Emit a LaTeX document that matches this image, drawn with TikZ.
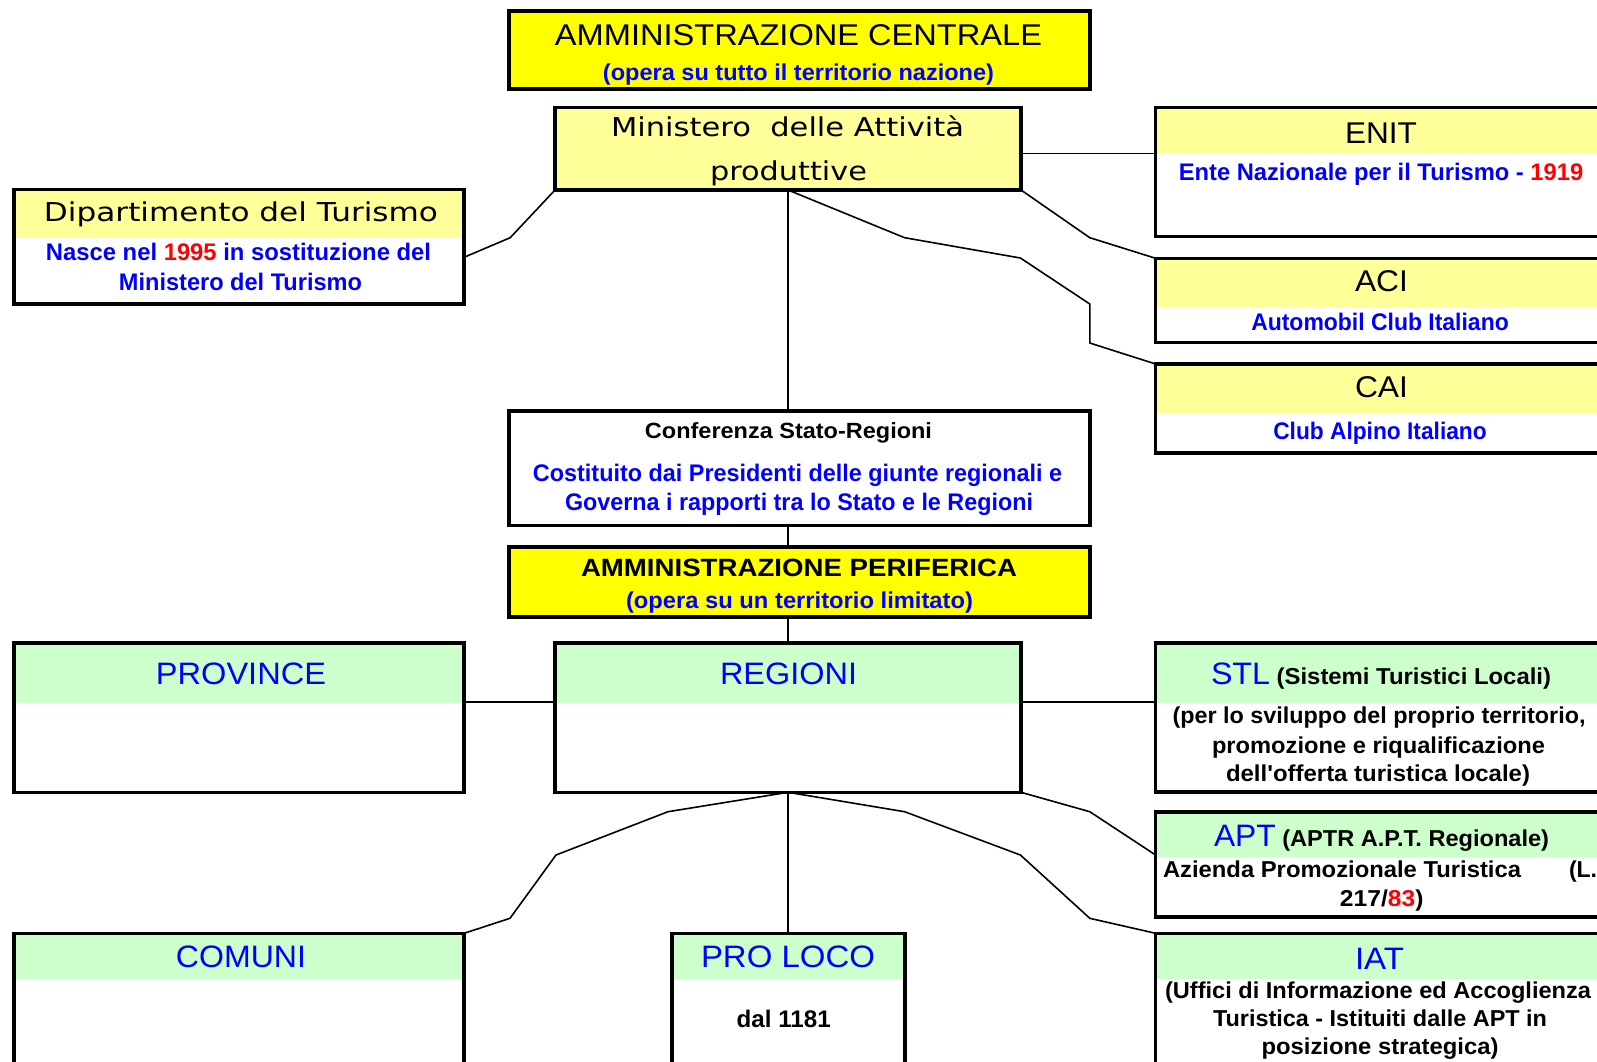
\documentclass[tikz,border=0pt]{standalone}
\usepackage{fontspec}
\usepackage{graphicx}
\setmainfont{Liberation Sans}
\newfontfamily\tahoma{DejaVu Sans}
\definecolor{ybright}{HTML}{FFFF00}
\definecolor{ylight}{HTML}{FFFF99}
\definecolor{ghead}{HTML}{CCFFCC}
\definecolor{tblue}{HTML}{0000FF}
\definecolor{tred}{HTML}{FF0000}
% font size in pt (1pt = 1 unit of the drawing)
\newcommand\fs[1]{\fontsize{#1}{#1}\selectfont}
% set a line to a given width, keeping its height
\newcommand\fitto[2]{\resizebox{#1pt}{\height}{#2}}
\begin{document}
\begin{tikzpicture}[x=1pt,y=-1pt,
  box/.style={draw=black, line width=3.6pt, rectangle, inner sep=0pt, outer sep=0pt},
  hdr/.style 2 args={path picture={\fill[#1] (path picture bounding box.north west) rectangle ([yshift=-#2pt]path picture bounding box.north east);}},
  txt/.style={anchor=base, inner sep=0pt, outer sep=0pt},
  wire/.style={draw=black, line width=1.6pt, line join=miter}]
\useasboundingbox (0,0) rectangle (1597,1061);
\clip (0,0) rectangle (1597,1061);
\fill[white] (0,0) rectangle (1597,1061);

% ---- central administration ----
\node[box, fill=ybright, minimum width=581pt, minimum height=78pt] (cen) at (799.5,50) {};
\node[box, fill=ylight, minimum width=466pt, minimum height=82.5pt] (min) at (788,148.75) {};
\node[box, fill=white, hdr={ylight}{48.8}, minimum width=450pt, minimum height=114.5pt] (dip) at (239,246.75) {};
\node[box, fill=white, hdr={ylight}{46.5}, minimum width=450.4pt, minimum height=129pt] (enit) at (1380.8,172) {};
\node[box, fill=white, hdr={ylight}{48.4}, minimum width=450.4pt, minimum height=84.2pt] (aci) at (1380.8,300.4) {};
\node[box, fill=white, hdr={ylight}{48.7}, minimum width=450.4pt, minimum height=89pt] (cai) at (1380.8,408.5) {};
\node[box, fill=white, minimum width=581pt, minimum height=114.8pt] (conf) at (799.5,468.1) {};

% ---- peripheral administration ----
\node[box, fill=ybright, minimum width=581pt, minimum height=70pt] (per) at (799.5,582) {};
\node[box, fill=white, hdr={ghead}{60}, minimum width=450pt, minimum height=149.6pt] (prov) at (239,717.5) {};
\node[box, fill=white, hdr={ghead}{60}, minimum width=466pt, minimum height=149.6pt] (reg) at (788,717.5) {};
\node[box, fill=white, hdr={ghead}{60}, minimum width=450.4pt, minimum height=149pt] (stl) at (1380.8,717.2) {};
\node[box, fill=white, hdr={ghead}{45}, minimum width=450.4pt, minimum height=105pt] (apt) at (1380.8,864.2) {};
\node[box, fill=white, hdr={ghead}{46}, minimum width=450pt, minimum height=146.7pt] (com) at (239,1006.65) {};
\node[box, fill=white, hdr={ghead}{46}, minimum width=233.3pt, minimum height=146.7pt] (pro) at (788.35,1006.65) {};
\node[box, fill=white, hdr={ghead}{46}, minimum width=450.4pt, minimum height=146.7pt] (iat) at (1380.8,1006.65) {};

% ---- connectors ----
\draw[wire] (min.south west) -- (510.2,237.7) -- (dip.east |- 0,257.3);
\draw[wire] (min.east |- 0,153.3) -- (enit.west |- 0,153.3);
\draw[wire] (min.south east) -- (1089.8,237.7) -- (aci.north west);
\draw[wire] (min.south) -- (904.6,237.7) -- (1020.4,258) -- (1089.8,304) -- (1089.8,343) -- (cai.north west);
\draw[wire] (min.south) -- (min.south |- conf.north);
\draw[wire] (min.south |- conf.south) -- (min.south |- per.north);
\draw[wire] (reg.north |- per.south) -- (reg.north);
\draw[wire] (prov.east |- 0,701.7) -- (reg.west |- 0,701.7);
\draw[wire] (reg.east |- 0,701.7) -- (stl.west |- 0,701.7);
\draw[wire] (reg.south east) -- (1089.8,811.7) -- (apt.west |- 0,855);
\draw[wire] (reg.south) -- (904.6,811.7) -- (1020.4,855) -- (1089.8,918.3) -- (iat.north west);
\draw[wire] (reg.south) -- (668,811.7) -- (556,855) -- (510,918.3) -- (com.north east);
\draw[wire] (reg.south) -- (reg.south |- pro.north);

% ---- texts ----
\node[txt] (t01) at (798.5,45) {\fitto{487}{\fs{30}AMMINISTRAZIONE CENTRALE}};
\node[txt] (t02) at (798.5,80) {\fitto{391}{\fs{23}\bfseries\color{tblue}(opera su tutto il territorio nazione)}};
\node[txt] (t03) at (787.5,136) {\fitto{353}{\tahoma\fs{26}Ministero\ \ delle Attività}};
\node[txt] (t04) at (788.5,180) {\fitto{157}{\tahoma\fs{26}produttive}};
\node[txt] (t05) at (241,221.7) {\fitto{394}{\tahoma\fs{26}Dipartimento del Turismo}};
\node[txt] (t06) at (238.5,260.7) {\fitto{385}{\fs{24}\bfseries\color{tblue}Nasce nel \textcolor{tred}{1995} in sostituzione del}};
\node[txt] (t07) at (240.5,290.7) {\fitto{243}{\fs{24}\bfseries\color{tblue}Ministero del Turismo}};
\node[txt] (t08) at (1381,143.3) {\fitto{72}{\fs{30}ENIT}};
\node[txt] (t09) at (1381,180) {\fitto{404.5}{\fs{24}\bfseries\color{tblue}Ente Nazionale per il Turismo - \textcolor{tred}{1919}}};
\node[txt] (t10) at (1381.5,291.7) {\fitto{53}{\fs{30}ACI}};
\node[txt] (t11) at (1380,330) {\fitto{257.5}{\fs{24}\bfseries\color{tblue}Automobil Club Italiano}};
\node[txt] (t12) at (1381.5,397.7) {\fitto{53}{\fs{30}CAI}};
\node[txt] (t13) at (1380,439.3) {\fitto{213.5}{\fs{24}\bfseries\color{tblue}Club Alpino Italiano}};
\node[txt] (t14) at (788.5,438) {\fitto{287}{\fs{22}\bfseries Conferenza Stato-Regioni}};
\node[txt] (t15) at (797.5,481) {\fitto{529}{\fs{24}\bfseries\color{tblue}Costituito dai Presidenti delle giunte regionali e}};
\node[txt] (t16) at (799,510) {\fitto{468}{\fs{24}\bfseries\color{tblue}Governa i rapporti tra lo Stato e le Regioni}};
\node[txt] (t17) at (799,576.5) {\fitto{436}{\fs{25}\bfseries AMMINISTRAZIONE PERIFERICA}};
\node[txt] (t18) at (799.5,608) {\fitto{347}{\fs{23}\bfseries\color{tblue}(opera su un territorio limitato)}};
\node[txt] (t19) at (241,684.5) {\fitto{170}{\fs{31}\color{tblue}PROVINCE}};
\node[txt] (t20) at (788.5,684.5) {\fitto{137}{\fs{31}\color{tblue}REGIONI}};
\node[txt] (t21) at (1381,684.3) {\fitto{340}{{\fs{31}\color{tblue}STL}{\fs{23}\bfseries{} (Sistemi Turistici Locali)}}};
\node[txt] (t22) at (1379,723.3) {\fitto{413}{\fs{23}\bfseries(per lo sviluppo del proprio territorio,}};
\node[txt] (t23) at (1378.5,753.3) {\fitto{333}{\fs{23}\bfseries promozione e riqualificazione}};
\node[txt] (t24) at (1378,781) {\fitto{304}{\fs{23}\bfseries dell\textquotesingle offerta turistica locale)}};
\node[txt] (t25) at (1381.5,846.7) {\fitto{335}{{\fs{31}\color{tblue}APT}{\fs{23}\bfseries{} (APTR A.P.T. Regionale)}}};
\node[txt] (t26) at (1342,877.3) {\fitto{358}{\fs{23}\bfseries Azienda Promozionale Turistica}};
\node[txt, anchor=base west] (t27) at (1569,877.3) {\fs{23}\bfseries (L.};
\node[txt] (t28) at (1381.7,906) {\fitto{83.5}{\fs{23}\bfseries 217/\textcolor{tred}{83})}};
\node[txt] (t29) at (241,967.3) {\fitto{130}{\fs{31}\color{tblue}COMUNI}};
\node[txt] (t30) at (788,967.3) {\fitto{174}{\fs{31}\color{tblue}PRO LOCO}};
\node[txt] (t31) at (783.7,1027.7) {\fitto{94}{\fs{24}\bfseries dal 1181}};
\node[txt] (t32) at (1379.5,969.3) {\fitto{49}{\fs{31}\color{tblue}IAT}};
\node[txt] (t33) at (1378,998.3) {\fitto{426}{\fs{23}\bfseries(Uffici di Informazione ed Accoglienza}};
\node[txt] (t34) at (1380,1026.7) {\fitto{334}{\fs{23}\bfseries Turistica - Istituiti dalle APT in}};
\node[txt] (t35) at (1380,1054) {\fitto{237}{\fs{23}\bfseries posizione strategica)}};
\end{tikzpicture}
\end{document}
